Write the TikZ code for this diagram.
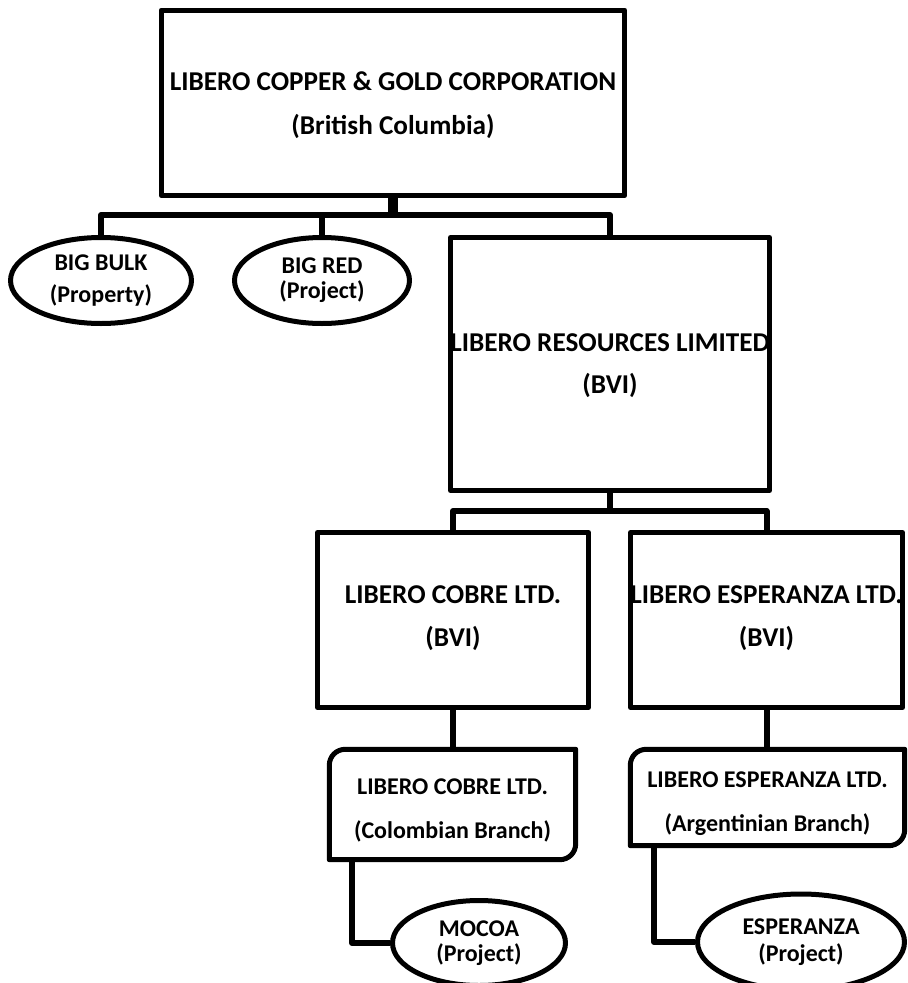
\documentclass[tikz,border=0pt]{standalone}
\usepackage{fontspec}
\setmainfont{Carlito}
\usetikzlibrary{shapes.geometric,calc}
\newcommand\orgroundbox[1]{%
  \draw[boxline]
    ($(#1.north west)!16pt!(#1.north east)$) -- (#1.north east)
    -- ($(#1.south east)!16pt!(#1.north east)$)
    .. controls ($(#1.south east)!7pt!(#1.north east)$) and ($(#1.south east)!7pt!(#1.south west)$) ..
    ($(#1.south east)!16pt!(#1.south west)$)
    -- (#1.south west)
    -- ($(#1.north west)!16pt!(#1.south west)$)
    .. controls ($(#1.north west)!7pt!(#1.south west)$) and ($(#1.north west)!7pt!(#1.north east)$) ..
    ($(#1.north west)!16pt!(#1.north east)$) -- cycle;}
\begin{document}
\begin{tikzpicture}[x=1pt,y=-1pt,line join=round,
  boxline/.style={line width=5pt},
  conn/.style={line width=6pt},
  orgbox/.style={draw,boxline,rectangle,inner sep=0pt},
  maintext/.style={align=center,inner sep=0pt},
  branchbox/.style={inner sep=0pt,align=center,
    font=\bfseries\fontsize{24}{44}\selectfont},
  proj/.style={draw,boxline,ellipse,inner sep=0pt,align=center}]
\useasboundingbox (0,0) rectangle (908,983);
\fill[white] (0,0) rectangle (908,983);

% boxes
\node[orgbox,minimum width=463.5pt,minimum height=185.5pt] (top) at (393,102.75) {};
\node[maintext,font=\bfseries\fontsize{27.2}{44}\selectfont] (toptext) at (393,105)
  {LIBERO COPPER \& GOLD CORPORATION\\(British Columbia)};
\node[orgbox,minimum width=319pt,minimum height=253pt] (lrl) at (610,364) {};
\node[maintext,font=\bfseries\fontsize{27.2}{42}\selectfont] (lrltext) at (610,366)
  {LIBERO RESOURCES LIMITED\\(BVI)};
\node[orgbox,minimum width=271pt,minimum height=175pt] (lcl) at (453,620) {};
\node[maintext,font=\bfseries\fontsize{27.2}{43}\selectfont] (lcltext) at (453,618.5)
  {LIBERO COBRE LTD.\\(BVI)};
\node[orgbox,minimum width=272pt,minimum height=175pt] (lel) at (766.5,620) {};
\node[maintext,font=\bfseries\fontsize{27.2}{43}\selectfont] (leltext) at (766.5,618.5)
  {LIBERO ESPERANZA LTD.\\(BVI)};
\node[minimum width=246pt,minimum height=110pt,inner sep=0pt] (lcb) at (452.5,804.5) {};
\node[branchbox] (lcbtext) at (452.5,810.5)
  {LIBERO COBRE LTD.\\(Colombian Branch)};
\node[minimum width=274pt,minimum height=96pt,inner sep=0pt] (leb) at (767.5,797.5) {};
\node[branchbox] (lebtext) at (767.5,803.5)
  {LIBERO ESPERANZA LTD.\\(Argentinian Branch)};
\orgroundbox{lcb}
\orgroundbox{leb}

% ellipses
\node[proj,minimum width=181pt,minimum height=86pt,font=\bfseries\fontsize{24}{32}\selectfont] (bb) at (101,280.5)
  {BIG BULK\\(Property)};
\node[proj,minimum width=175pt,minimum height=86pt,font=\bfseries\fontsize{24}{25}\selectfont] (br) at (322,280.5)
  {BIG RED\\(Project)};
\node[proj,minimum width=173pt,minimum height=85pt,font=\bfseries\fontsize{24}{25}\selectfont] (moc) at (479,943)
  {MOCOA\\(Project)};
\node[proj,minimum width=207pt,minimum height=96pt,font=\bfseries\fontsize{24}{27}\selectfont] (esp) at (801,942)
  {ESPERANZA\\(Project)};

% connectors
\coordinate (busA) at (0,215);
\coordinate (busB) at (0,511);
\coordinate (mx) at (352,0);
\coordinate (ex) at (654,0);
\draw[conn] (bb.north) -- (bb.north |- busA) -- (lrl.north |- busA) -- (lrl.north);
\draw[conn] (br.north) -- (br.north |- busA);
\draw[line width=10pt] (top.south) -- ($(top.south |- busA)+(0,2)$);
\draw[conn] (lrl.south) -- (lrl.south |- busB);
\draw[conn] (lcl.north) -- (lcl.north |- busB) -- (lel.north |- busB) -- (lel.north);
\draw[conn] (lcl.south) -- (lcl.south |- lcb.north);
\draw[conn] (lel.south) -- (lel.south |- leb.north);
\draw[conn] (lcb.south -| mx) |- (moc.west);
\draw[conn] (leb.south -| ex) |- (esp.west);
\end{tikzpicture}
\end{document}
